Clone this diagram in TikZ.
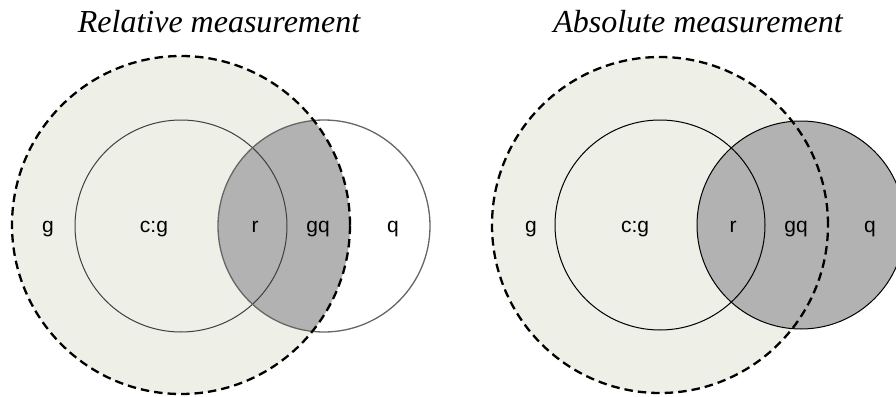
\documentclass[tikz,border=0pt]{standalone}
\usepackage{fontspec}
\setmainfont{Liberation Serif}
\newfontfamily\labfont{Liberation Sans}
\definecolor{beige}{RGB}{238,239,230}
\definecolor{setgray}{RGB}{178,178,178}
\begin{document}
\begin{tikzpicture}[x=1pt,y=-1pt,
  titlestyle/.style={anchor=base,inner sep=0pt,font=\fontsize{32}{38}\selectfont\itshape},
  labstyle/.style={anchor=base,inner sep=0pt,font=\labfont\fontsize{21}{25}\selectfont},
  bigdash/.style={line width=2.3pt,dash pattern=on 8.5pt off 5pt},
  thinleft/.style={line width=1pt,draw=black!75},
  thinright/.style={line width=1pt,draw=black}]
\useasboundingbox (0,0) rectangle (896,396);
\clip (0,0) rectangle (896,396);
% titles
\node[titlestyle] (t1) at (219,33) {Relative measurement};
\node[titlestyle] (t2) at (698,33) {Absolute measurement};
% ---------- left diagram ----------
\fill[beige] (181,225) circle[radius=169pt];
\begin{scope}
  \clip (181,225) circle[radius=169pt];
  \fill[setgray] (324,226) circle[radius=106pt];
\end{scope}
\draw[thinleft] (181,226) circle[radius=106pt];
\draw[thinleft,draw=black!60,line width=1.3pt] (324,226) circle[radius=106pt];
\draw[bigdash] (181,225) circle[radius=169pt];
\node[labstyle] (lg)  at (48,232)  {g};
\node[labstyle] (lcg) at (154,232) {c:g};
\node[labstyle] (lr)  at (255,232) {r};
\node[labstyle] (lgq) at (318,232) {gq};
\node[labstyle] (lq)  at (393,232) {q};
% ---------- right diagram ----------
\fill[beige] (660,225) circle[radius=168pt];
\fill[setgray] (801,225) circle[radius=104pt];
\draw[thinright] (660,225) circle[radius=105pt];
\draw[thinright] (801,225) circle[radius=104pt];
\draw[bigdash] (660,225) circle[radius=168pt];
\node[labstyle] (rg)  at (531,232) {g};
\node[labstyle] (rcg) at (635,232) {c:g};
\node[labstyle] (rr)  at (733,232) {r};
\node[labstyle] (rgq) at (796,232) {gq};
\node[labstyle] (rq)  at (870,232) {q};
\end{tikzpicture}
\end{document}
